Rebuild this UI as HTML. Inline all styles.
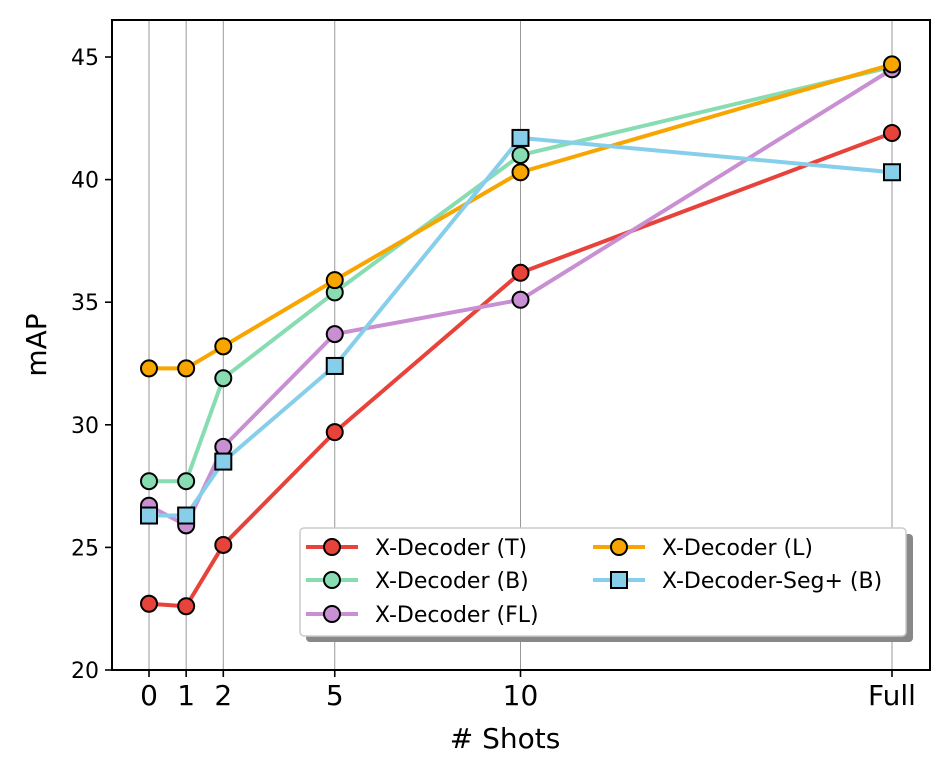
<!DOCTYPE html>
<html><head><meta charset="utf-8"><style>
body{margin:0;background:#fff;}
svg text{font-family:"DejaVu Sans","Liberation Sans",sans-serif;}
</style></head><body>
<svg id="chart" width="950" height="777" viewBox="0 0 950 777" xmlns="http://www.w3.org/2000/svg"></svg>
<script>
const categories = ["0","1","2","5","10","Full"];
const xValues = [0,1,2,5,10,20];
const yTicks = [20,25,30,35,40,45];
const seriesNames = ["X-Decoder (T)","X-Decoder (B)","X-Decoder (FL)","X-Decoder (L)","X-Decoder-Seg+ (B)"];
const seriesT = [22.7,22.6,25.1,29.7,36.2,41.9];
const seriesB = [27.7,27.7,31.9,35.4,41.0,44.6];
const seriesFL = [26.7,25.9,29.1,33.7,35.1,44.5];
const seriesL = [32.3,32.3,33.2,35.9,40.3,44.7];
const seriesSeg = [26.3,26.3,28.5,32.4,41.7,40.3];

const NS="http://www.w3.org/2000/svg";
const svg=document.getElementById('chart');
const L=112,R=930,T=20,B=670;
function x(u){return 149+u*37.15;}
function y(v){return 670-(v-20)*24.52;}
function mk(tag,attrs,parent){const e=document.createElementNS(NS,tag);for(const k in attrs)e.setAttribute(k,attrs[k]);(parent||svg).appendChild(e);return e;}

xValues.forEach((u,i)=>{
  const g=mk('line',{x1:x(u),x2:x(u),y1:T,y2:B,stroke:'#999','stroke-width':1});
  
  
  const t=mk('line',{x1:x(u),x2:x(u),y1:B,y2:B+7,stroke:'#000','stroke-width':1.6});
  
  
  const tx=mk('text',{x:x(u),y:B+35,'text-anchor':'middle','font-size':28});
  tx.textContent=categories[i];
  
  
});
yTicks.forEach(v=>{
  const t=mk('line',{x1:L-7,x2:L,y1:y(v),y2:y(v),stroke:'#000','stroke-width':1.6});
  
  
  const tx=mk('text',{x:L-13,y:y(v)+8,'text-anchor':'end','font-size':22});
  tx.textContent=v;
  
  
});

const all=[[seriesT,'#e8433a','o'],[seriesB,'#88dcb1','o'],[seriesFL,'#c98fd3','o'],[seriesL,'#f8a500','o'],[seriesSeg,'#87ceeb','s']];
all.forEach((s,si)=>{
  const g=mk('g',{});
  
  
  const pts=s[0].map((v,i)=>x(xValues[i])+','+y(v)).join(' ');
  mk('polyline',{points:pts,fill:'none',stroke:s[1],'stroke-width':4,'stroke-linejoin':'round'},g);
  s[0].forEach((v,i)=>{
    let m;
    if(s[2]==='o') m=mk('circle',{cx:x(xValues[i]),cy:y(v),r:8,fill:s[1],stroke:'#000','stroke-width':2},g);
    else m=mk('rect',{x:x(xValues[i])-8,y:y(v)-8,width:16,height:16,fill:s[1],stroke:'#000','stroke-width':2},g);
    
    
  });
});

const frame=mk('rect',{x:L,y:T,width:R-L,height:B-T,fill:'none',stroke:'#000','stroke-width':2});



const yl=mk('text',{x:0,y:0,'text-anchor':'middle','font-size':28,transform:'translate(46,345) rotate(-90)'});
yl.textContent='mAP';


const xl=mk('text',{x:505,y:748,'text-anchor':'middle','font-size':28});
xl.textContent='# Shots';



const lg=mk('g',{});


mk('rect',{x:306,y:534,width:607,height:108,rx:4,fill:'#888'},lg);
mk('rect',{x:300,y:528,width:606,height:108,rx:4,fill:'#fff',stroke:'#ccc','stroke-width':1.5},lg);
const pos=[[306,547],[306,580],[306,614],[593,547],[593,580]];
all.forEach((s,si)=>{
  const [lx,ly]=pos[si];
  const e=mk('g',{},lg);
  
  
  mk('line',{x1:lx,x2:lx+52,y1:ly,y2:ly,stroke:s[1],'stroke-width':4},e);
  if(s[2]==='o') mk('circle',{cx:lx+26,cy:ly,r:8,fill:s[1],stroke:'#000','stroke-width':2},e);
  else mk('rect',{x:lx+18,y:ly-8,width:16,height:16,fill:s[1],stroke:'#000','stroke-width':2},e);
  const t=mk('text',{x:lx+69,y:ly+8,'font-size':22},e);
  t.textContent=seriesNames[si];
});
</script>
</body></html>
